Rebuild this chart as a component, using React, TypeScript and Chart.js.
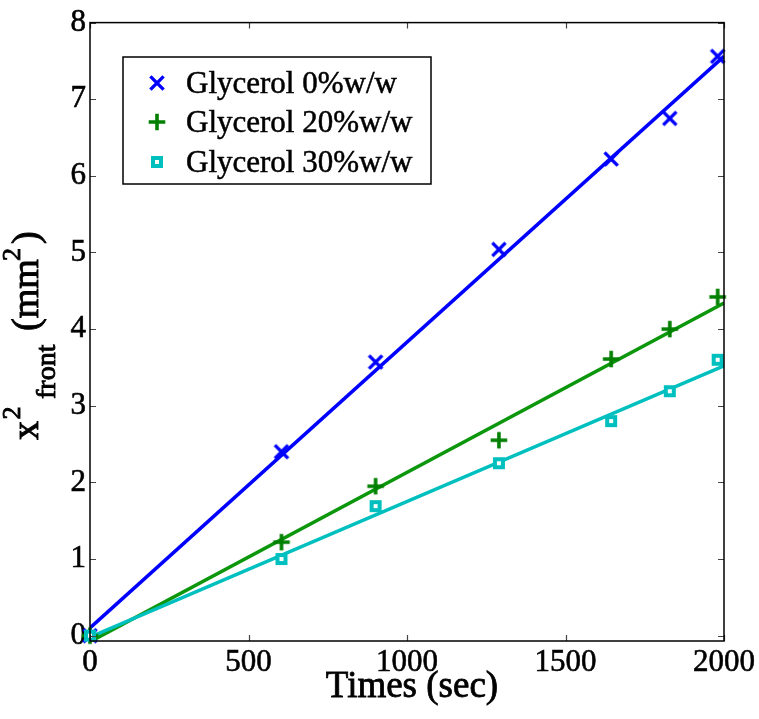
import React, { useEffect, useRef } from "react";
import { Chart, registerables } from "chart.js";

Chart.register(...registerables);

// ---- data ----
const times = [0, 604, 901, 1290, 1644, 1829, 1980];
const glycerol0 = [0, 2.4, 3.57, 5.04, 6.22, 6.75, 7.56];
const glycerol20 = [0, 1.22, 1.95, 2.55, 3.61, 4.0, 4.42];
const glycerol30 = [0, 1.0, 1.69, 2.25, 2.8, 3.19, 3.6];
const fitX = [0, 2000];
const fit0 = [0.1, 7.56];
const fit20 = [-0.08, 4.34];
const fit30 = [-0.02, 3.52];
const seriesLabels = ["Glycerol 0%w/w", "Glycerol 20%w/w", "Glycerol 30%w/w"];
const xTicks = [0, 500, 1000, 1500, 2000];
const yTicks = [0, 1, 2, 3, 4, 5, 6, 7, 8];
const xTitle = "Times (sec)";

const BLUE = "#0000ff";
const GREEN_M = "#007f00";
const GREEN_L = "#0c960c";
const CYAN = "#00bfbf";
const SERIF = "'Liberation Serif', 'Times New Roman', serif";

const pts = (xs: number[], ys: number[]) => xs.map((x, i) => ({ x, y: ys[i] }));

function drawMarker(ctx: CanvasRenderingContext2D, kind: string, x: number, y: number) {
  ctx.save();
  ctx.lineCap = "butt";
  if (kind === "x") {
    ctx.strokeStyle = BLUE;
    ctx.lineWidth = 3.4;
    const d = 6.6;
    ctx.beginPath();
    ctx.moveTo(x - d, y - d);
    ctx.lineTo(x + d, y + d);
    ctx.moveTo(x - d, y + d);
    ctx.lineTo(x + d, y - d);
    ctx.stroke();
  } else if (kind === "+") {
    ctx.strokeStyle = GREEN_M;
    ctx.lineWidth = 3.6;
    const d = 8.3;
    ctx.beginPath();
    ctx.moveTo(x - d, y);
    ctx.lineTo(x + d, y);
    ctx.moveTo(x, y - d);
    ctx.lineTo(x, y + d);
    ctx.stroke();
  } else {
    ctx.strokeStyle = CYAN;
    ctx.fillStyle = "#fff";
    ctx.lineWidth = 4;
    ctx.beginPath();
    ctx.rect(x - 4, y - 4, 8, 8);
    ctx.fill();
    ctx.stroke();
  }
  ctx.restore();
}

function heavyText(ctx: CanvasRenderingContext2D, s: string, x: number, y: number, w: number) {
  ctx.fillText(s, x, y);
  ctx.lineWidth = w;
  ctx.strokeStyle = ctx.fillStyle as string;
  ctx.strokeText(s, x, y);
}

const framePlugin = {
  id: "frame",
  afterDraw(chart: any) {
    const { ctx, chartArea: a, scales } = chart;
    const xs = scales.x;
    const ys = scales.y;
    ctx.save();
    // inward ticks
    ctx.strokeStyle = "#444";
    ctx.lineWidth = 1.2;
    const L = 6;
    ctx.beginPath();
    xTicks.forEach((v) => {
      const px = Math.round(xs.getPixelForValue(v)) + 0.5;
      ctx.moveTo(px, a.bottom);
      ctx.lineTo(px, a.bottom - L);
      ctx.moveTo(px, a.top);
      ctx.lineTo(px, a.top + L);
    });
    yTicks.forEach((v) => {
      const py = Math.round(ys.getPixelForValue(v)) + 0.5;
      ctx.moveTo(a.left, py);
      ctx.lineTo(a.left + L, py);
      ctx.moveTo(a.right, py);
      ctx.lineTo(a.right - L, py);
    });
    ctx.stroke();
    // box
    ctx.strokeStyle = "#000";
    ctx.lineWidth = 1.5;
    ctx.strokeRect(a.left, a.top, a.right - a.left, a.bottom - a.top);

    // legend
    const lx = 123, ly = 57, lw = 308, lh = 127;
    ctx.fillStyle = "#fff";
    ctx.fillRect(lx, ly, lw, lh);
    ctx.strokeStyle = "#000";
    ctx.lineWidth = 1.5;
    ctx.strokeRect(lx, ly, lw, lh);
    const kinds = ["x", "+", "s"];
    const rowY = [83, 122, 162];
    ctx.font = `31px ${SERIF}`;
    ctx.textBaseline = "alphabetic";
    ctx.textAlign = "left";
    seriesLabels.forEach((t, i) => {
      drawMarker(ctx, kinds[i], 157, rowY[i]);
      ctx.fillStyle = "#000";
      heavyText(ctx, t, 186, rowY[i] + 10, 0.5);
    });

    // x title
    ctx.font = `37px ${SERIF}`;
    ctx.textAlign = "center";
    ctx.fillStyle = "#000";
    heavyText(ctx, xTitle, 412, 697, 0.8);

    // y title: x^2_{front} (mm^2)
    ctx.translate(38, 440);
    ctx.rotate(-Math.PI / 2);
    ctx.textAlign = "left";
    const main = `38px ${SERIF}`;
    const small = `26px ${SERIF}`;
    const sub = `28px ${SERIF}`;
    const put = (s: string, f: string, u: number, v: number) => {
      ctx.font = f;
      heavyText(ctx, s, u, v, 0.9);
    };
    put("x", main, 0, 0);
    put("2", small, 20.5, -18);
    put("front", sub, 41, 17);
    put("(mm", main, 109, 0);
    put("2", small, 179, -18);
    put(")", main, 196, 0);
    ctx.restore();
  },
};

export default function App() {
  const ref = useRef<HTMLCanvasElement | null>(null);
  useEffect(() => {
    document.body.style.margin = "0";
    const canvas = ref.current!;
    const mk = (kind: string) => {
      const c = document.createElement("canvas");
      c.width = 24;
      c.height = 24;
      drawMarker(c.getContext("2d")!, kind, 12, 12);
      return c;
    };
    const tickFont = { family: SERIF, size: 31 };
    const chart = new Chart(canvas, {
      type: "scatter",
      data: {
        datasets: [
          { label: "fit0", data: pts(fitX, fit0), showLine: true, borderColor: BLUE, borderWidth: 3.5, pointRadius: 0, order: 5 },
          { label: "fit20", data: pts(fitX, fit20), showLine: true, borderColor: GREEN_L, borderWidth: 3.5, pointRadius: 0, order: 4 },
          { label: "fit30", data: pts(fitX, fit30), showLine: true, borderColor: CYAN, borderWidth: 3.5, pointRadius: 0, order: 3 },
          { label: seriesLabels[0], data: pts(times, glycerol0), pointStyle: mk("x") as any, showLine: false, order: 2, clip: false as any },
          { label: seriesLabels[1], data: pts(times, glycerol20), pointStyle: mk("+") as any, showLine: false, order: 1, clip: false as any },
          { label: seriesLabels[2], data: pts(times, glycerol30), pointStyle: mk("s") as any, showLine: false, order: 0, clip: false as any },
        ],
      },
      options: {
        animation: false,
        responsive: false,
        layout: { padding: { top: 18, right: 35, left: 0, bottom: 0 } },
        plugins: { legend: { display: false }, tooltip: { enabled: false } },
        scales: {
          x: {
            type: "linear",
            min: 0,
            max: 2000,
            grid: { display: false, drawTicks: false },
            border: { display: false },
            afterBuildTicks: (s: any) => { s.ticks = xTicks.map((v) => ({ value: v })); },
            afterFit: (s: any) => { s.height = 78; },
            ticks: { color: "#000", textStrokeColor: "#000", textStrokeWidth: 0.6, font: tickFont, padding: 3, maxRotation: 0, autoSkip: false, callback: (v: any) => String(v) },
          },
          y: {
            type: "linear",
            min: -0.07,
            max: 8,
            grid: { display: false, drawTicks: false },
            border: { display: false },
            afterBuildTicks: (s: any) => { s.ticks = yTicks.map((v) => ({ value: v })); },
            afterFit: (s: any) => { s.width = 90; },
            ticks: { color: "#000", textStrokeColor: "#000", textStrokeWidth: 0.6, font: tickFont, padding: 4, autoSkip: false, callback: (v: any) => String(v) },
          },
        },
      },
      plugins: [framePlugin],
    });
    return () => chart.destroy();
  }, []);
  return <canvas ref={ref} width={759} height={719} style={{ display: "block" }} />;
}
